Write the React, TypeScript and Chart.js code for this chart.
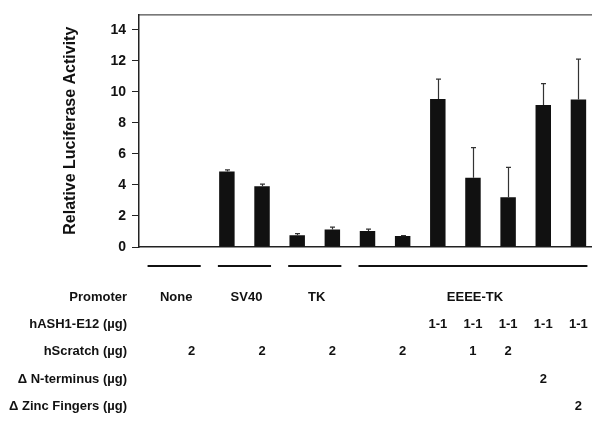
import React, { useEffect, useRef } from "react";
import { Chart, registerables } from "chart.js";

Chart.register(...registerables);

const categories = ["None", "None", "SV40", "SV40", "TK", "TK", "EEEE-TK", "EEEE-TK", "EEEE-TK", "EEEE-TK", "EEEE-TK", "EEEE-TK", "EEEE-TK"];
const activity = [0.04, 0.04, 4.87, 3.91, 0.75, 1.13, 1.03, 0.71, 9.55, 4.47, 3.21, 9.15, 9.51];
const errorUp = [0, 0, 0.11, 0.15, 0.11, 0.15, 0.12, 0.03, 1.28, 1.94, 1.92, 1.39, 2.61];
const yTicks = [0, 2, 4, 6, 8, 10, 12, 14];

const groupLabels = ["None", "SV40", "TK", "EEEE-TK"];
const groupStart = [0, 2, 4, 6];
const groupEnd = [1, 3, 5, 12];

const rowLabels = ["Promoter", "hASH1-E12 (µg)", "hScratch (µg)", "Δ N-terminus (µg)", "Δ Zinc Fingers (µg)"];
const hash1 = ["", "", "", "", "", "", "", "", "1-1", "1-1", "1-1", "1-1", "1-1"];
const hScratch = ["", "2", "", "2", "", "2", "", "2", "", "1", "2", "", ""];
const nTerminus = ["", "", "", "", "", "", "", "", "", "", "", "2", ""];
const zincFingers = ["", "", "", "", "", "", "", "", "", "", "", "", "2"];

const FONT = "'Liberation Sans', Arial, Helvetica, sans-serif";
const INK = "#111";

const extrasPlugin = {
  id: "extras",
  afterDatasetsDraw(chart: any) {
    const { ctx, scales, chartArea } = chart;
    const xs = scales.x;
    const ys = scales.y;
    ctx.save();
    // top border
    ctx.strokeStyle = "#222";
    ctx.lineWidth = 1;
    ctx.beginPath();
    ctx.moveTo(chartArea.left, chartArea.top + 0.5);
    ctx.lineTo(chartArea.right, chartArea.top + 0.5);
    ctx.stroke();
    // error bars
    ctx.strokeStyle = "#333";
    ctx.lineWidth = 1.2;
    activity.forEach((v, i) => {
      const e = errorUp[i];
      if (!e) return;
      const x = Math.round(xs.getPixelForValue(i)) + 0.5;
      const y0 = ys.getPixelForValue(v);
      const y1 = ys.getPixelForValue(v + e);
      ctx.beginPath();
      ctx.moveTo(x, y0);
      ctx.lineTo(x, y1);
      ctx.moveTo(x - 2.5, y1);
      ctx.lineTo(x + 2.5, y1);
      ctx.stroke();
    });
    ctx.restore();
  },
  afterDraw(chart: any) {
    const { ctx, scales, chartArea } = chart;
    const xs = scales.x;
    const bottom = chartArea.bottom;
    ctx.save();
    // group lines
    ctx.strokeStyle = INK;
    ctx.lineWidth = 2.2;
    groupLabels.forEach((g, k) => {
      const x0 = xs.getPixelForValue(groupStart[k]) - 9;
      const x1 = xs.getPixelForValue(groupEnd[k]) + 9;
      ctx.beginPath();
      ctx.moveTo(x0, bottom + 19);
      ctx.lineTo(x1, bottom + 19);
      ctx.stroke();
    });
    ctx.fillStyle = INK;
    ctx.font = `bold 13px ${FONT}`;
    ctx.textBaseline = "middle";
    const rowY = (r: number) => bottom + 50 + r * 27.4;
    // row labels
    ctx.textAlign = "right";
    rowLabels.forEach((t, r) => ctx.fillText(t, 127, rowY(r)));
    // promoter labels
    ctx.textAlign = "center";
    groupLabels.forEach((g, k) => {
      const x = (xs.getPixelForValue(groupStart[k]) + xs.getPixelForValue(groupEnd[k])) / 2 + 2;
      ctx.fillText(g, x, rowY(0));
    });
    const rows = [hash1, hScratch, nTerminus, zincFingers];
    rows.forEach((row, r) => {
      row.forEach((t, i) => {
        if (t) ctx.fillText(t, xs.getPixelForValue(i), rowY(r + 1));
      });
    });
    ctx.restore();
  },
};

export default function App() {
  const ref = useRef<HTMLCanvasElement>(null);
  useEffect(() => {
    document.body.style.overflow = "hidden";
    const chart = new Chart(ref.current as HTMLCanvasElement, {
      type: "bar",
      data: {
        labels: categories,
        datasets: [
          {
            data: activity,
            backgroundColor: INK,
            borderWidth: 0,
            barPercentage: 0.44,
            categoryPercentage: 1,
          },
        ],
      },
      plugins: [extrasPlugin],
      options: {
        responsive: false,
        animation: false,
        layout: { padding: { top: 13, right: 4, bottom: 188, left: 0 } },
        plugins: { legend: { display: false }, tooltip: { enabled: false } },
        scales: {
          x: {
            offset: true,
            grid: { display: false, drawTicks: false },
            ticks: { display: false },
            border: { display: true, color: "#222", width: 1.5 },
            afterFit: (s: any) => {
              s.height = 0;
            },
          },
          y: {
            min: 0,
            max: 15,
            afterBuildTicks: (s: any) => {
              s.ticks = yTicks.map((v) => ({ value: v }));
            },
            afterFit: (s: any) => {
              s.width = 139;
            },
            grid: { drawOnChartArea: false, drawTicks: true, tickLength: 7, color: "#222", lineWidth: 1 },
            border: { display: true, color: "#222", width: 1.5 },
            ticks: {
              padding: 6,
              color: INK,
              font: { family: FONT, size: 14, weight: "bold" },
            },
            title: {
              display: true,
              text: "Relative Luciferase Activity",
              color: INK,
              font: { family: FONT, size: 16, weight: "bold" },
              padding: { top: 61, bottom: 0 },
            },
          },
        },
      },
    });
    return () => chart.destroy();
  }, []);
  return (
    <div style={{ position: "fixed", left: 0, top: 0, width: 600, height: 435, background: "#fff" }}>
      <canvas ref={ref} width={600} height={435} />
    </div>
  );
}
